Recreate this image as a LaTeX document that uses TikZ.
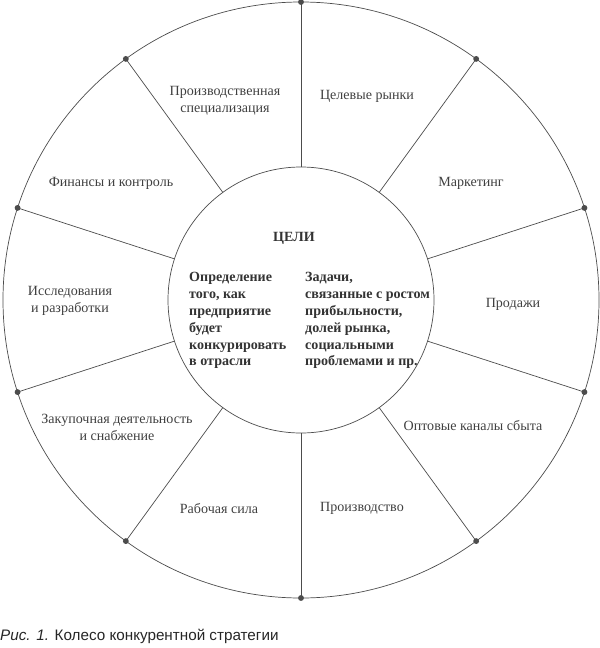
\documentclass[tikz,border=0pt]{standalone}
\usepackage{fontspec}
\setmainfont{Liberation Serif}
\newfontfamily\capfont{Liberation Sans}
\begin{document}
\begin{tikzpicture}[x=0.03cm,y=-0.03cm,
  line/.style={draw=black!70,line width=0.6pt},
  lbl/.style={text=black!75,font=\fontsize{12}{14.4}\selectfont,align=center},
  ctr/.style={text=black!80,font=\bfseries\fontsize{12}{14.4}\selectfont,align=left,anchor=north west,inner sep=0pt},
  dot/.style={circle,fill=black!70,inner sep=0pt,minimum size=5pt}]
\useasboundingbox (0,0) rectangle (600,648);
\draw[line] (301,300) circle [radius=298];
\draw[line] (301,300) circle [radius=133];
\foreach \i in {0,...,9}{
  \pgfmathsetmacro\a{90+36*\i}
  \coordinate (o\i) at ({301+298*cos(\a)},{300-298*sin(\a)});
  \coordinate (n\i) at ({301+133*cos(\a)},{300-133*sin(\a)});
  \draw[line] (n\i) -- (o\i);
  \node[dot] at (o\i) {};
}
\node[lbl] (l1) at (225,101) {Производственная\\специализация};
\node[lbl] (l2) at (367,96) {Целевые рынки};
\node[lbl] (l3) at (111,183) {Финансы и контроль};
\node[lbl] (l4) at (471,183) {Маркетинг};
\node[lbl] (l5) at (70,301) {Исследования\\и разработки};
\node[lbl] (l6) at (513,304) {Продажи};
\node[lbl] (l7) at (117,427) {Закупочная деятельность\\и снабжение};
\node[lbl] (l8) at (473,426) {Оптовые каналы сбыта};
\node[lbl] (l9) at (219,509) {Рабочая сила};
\node[lbl] (l10) at (362,508) {Производство};
\node[text=black!80,font=\bfseries\fontsize{12}{14}\selectfont] (g) at (294,238) {ЦЕЛИ};
\node[ctr] (cl) at (189,272) {Определение\\того, как\\предприятие\\будет\\конкурировать\\в отрасли};
\node[ctr] (cr) at (305,272) {Задачи,\\связанные с ростом\\прибыльности,\\долей рынка,\\социальными\\проблемами и пр.};
\node[anchor=west,inner sep=0pt,text=black!85,font=\capfont\fontsize{13}{15}\selectfont] (cap) at (0,636) {\textit{Рис. 1.} Колесо конкурентной стратегии};
\end{tikzpicture}
\end{document}
